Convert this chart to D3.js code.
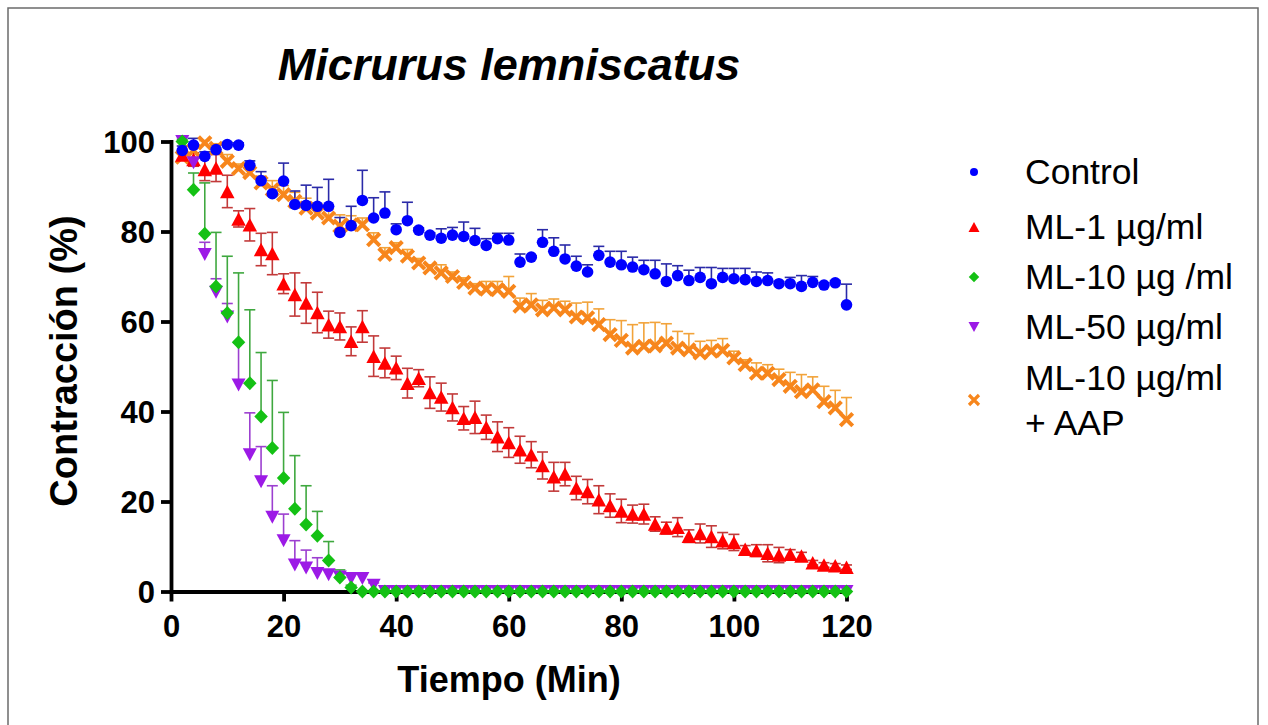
<!DOCTYPE html>
<html><head><meta charset="utf-8">
<script src="https://cdn.jsdelivr.net/npm/d3@7"></script>
<style>body{margin:0;background:#fff}svg{display:block}</style>
</head><body>
<svg id="chart" width="1268" height="725"></svg>
<script>
const times = d3.range(2, 121, 2);
const xTicks = [0, 20, 40, 60, 80, 100, 120];
const yTicks = [0, 20, 40, 60, 80, 100];
const seriesNames = ["Control", "ML-1 µg/ml", "ML-10 µg /ml", "ML-50 µg/ml", "ML-10 µg/ml|+ AAP"];

const controlMean = [98.0,99.2,96.7,98.2,99.3,99.2,94.7,91.3,88.4,91.2,86.0,85.8,85.6,85.6,79.8,81.3,86.9,83.0,84.1,80.4,82.4,80.3,79.2,78.5,79.2,78.9,78.0,76.9,78.4,78.1,73.2,74.3,77.6,75.6,73.9,72.3,71.0,74.7,73.2,72.6,72.1,71.5,70.6,68.9,70.2,69.1,69.8,68.4,69.8,69.5,69.3,68.9,69.1,68.4,68.4,67.8,68.7,68.1,68.6,63.7];
const controlErr = [1,1.5,1,1,0.5,0.5,1,2,1.5,4,3,4.5,4.2,6,3.3,4.3,6.7,4.5,4.7,1.3,4.1,0.5,0.5,2.1,1.7,3.2,2.7,1.5,1.2,1.5,1.8,0.3,2.8,3,3.1,2.2,1.6,2,2.4,3,2.2,2.1,3,3.9,2.2,2.3,2.2,3.6,2,2.3,2.5,2.1,1.7,0.5,1.4,2.4,1.3,0.5,0.5,4.6];

const ml1Mean = [97,96,93.8,94.1,88.9,82.8,81.5,76.0,75.1,68.4,66.0,64.1,62.0,59.3,58.9,55.6,58.9,52.3,50.8,49.7,46.3,47.4,44.2,43.2,40.9,38.5,38.7,36.5,34.4,33.1,31.5,30.4,28.0,25.5,26.1,23.0,22.2,20.4,19.1,17.9,17.2,17.2,15.0,14.1,14.3,12.3,12.9,12.2,11.3,10.9,9.4,9.1,8.5,8.1,8.3,7.9,6.4,5.9,5.7,5.4];
const ml1Err = [1,1.5,2.5,3,3.6,1.8,3.6,3.6,4.7,2.2,4.8,4.5,4.5,3,3,3.2,3.5,4.5,3.3,2.6,3.3,1.9,3.5,3.1,3,2.6,3.6,2.7,3.3,3.3,3,2.9,3,3.2,2.6,2.6,2.7,3.1,2.6,2.6,2,2.2,1.6,1.3,2.1,1.4,2.1,2.4,1.8,1.8,0.8,1.3,1.9,1.7,1,0.8,0.5,0.5,0.5,0.5];

const ml10Mean = [100,89.3,79.5,67.8,61.9,55.4,46.3,38.9,31.9,25.2,18.4,14.9,12.4,6.9,3.1,0.9,0,0,0,0,0,0,0,0,0,0,0,0,0,0,0,0,0,0,0,0,0,0,0,0,0,0,0,0,0,0,0,0,0,0,0,0,0,0,0,0,0,0,0,0];
const ml10Err = [0.5,3.7,11.3,12,12.6,15.4,16.3,14.2,15,14.6,11.8,8.6,5.4,4.2,1.7,0.5,0,0,0,0,0,0,0,0,0,0,0,0,0,0,0,0,0,0,0,0,0,0,0,0,0,0,0,0,0,0,0,0,0,0,0,0,0,0,0,0,0,0,0,0];

const ml50Mean = [100,95.3,74.9,66.5,61,45.9,30.4,24.4,16.5,11.3,5.9,5.2,4.0,3.7,3.2,2.9,2.9,1.4,0,0,0,0,0,0,0,0,0,0,0,0,0,0,0,0,0,0,0,0,0,0,0,0,0,0,0,0,0,0,0,0,0,0,0,0,0,0,0,0,0,0];
const ml50Err = [0,1,2.7,3,3,9.3,9.3,7.8,7,5.9,5.4,4,3.5,1.1,1,1,1,0.5,0,0,0,0,0,0,0,0,0,0,0,0,0,0,0,0,0,0,0,0,0,0,0,0,0,0,0,0,0,0,0,0,0,0,0,0,0,0,0,0,0,0];

const aapMean = [96.5,98,99.7,98.5,95.6,94.0,93.1,90.8,89.3,88.2,86.7,85.2,84.1,83.0,81.2,81.5,81.5,78.2,74.9,76.4,74.5,73.0,71.9,70.8,70.0,68.7,67.4,67.2,67.1,66.7,63.4,63.7,62.6,63.0,62.6,61.0,60.8,59.3,57.1,55.8,54.1,54.5,54.6,55.2,54.1,53.7,53.0,53.4,53.6,51.9,50.4,48.5,48.5,47.1,45.6,44.4,44.8,42.2,40.8,38.2];
const aapErr = [1,1,0.5,1,1.5,1,1.5,1.5,2,2,2,2.2,2,2,2.5,2,1.5,1.5,1.5,1.1,1.5,1,0.7,1.8,1,1,1,1.7,1.8,3.3,1.8,2.5,2.1,2,1.9,3.1,3.5,3.5,3.3,4.4,5.2,5.2,5.2,4.3,3.7,3.6,2.6,2.4,2.6,1.5,1.1,2.3,1.9,2.3,3.1,3.8,2.9,3.4,3.9,4.9];

const svg = d3.select("#chart");

// frame
svg.append("path").attr("d", "M8,725 L8,8 L1258,8 L1258,725")
  .attr("fill", "none").attr("stroke", "#6b6b6b").attr("stroke-width", 1.5);

const x = d3.scaleLinear().domain([0, 120]).range([171, 846.5]);
const y = d3.scaleLinear().domain([0, 100]).range([591.5, 141.5]);

const FONT = "'Liberation Sans', Arial, Helvetica, sans-serif";

// title
svg.append("text").attr("x", 509).attr("y", 80).attr("text-anchor", "middle")
  .attr("font-family", FONT).attr("font-weight", "bold").attr("font-style", "italic")
  .attr("font-size", 45).text("Micrurus lemniscatus");

// axes
const xAxis = d3.axisBottom(x).tickValues(xTicks).tickSize(10).tickSizeOuter(0).tickPadding(6);
const yAxis = d3.axisLeft(y).tickValues(yTicks).tickSize(10).tickSizeOuter(0).tickPadding(6);

const gx = svg.append("g").attr("transform", `translate(0,${y(0)})`).call(xAxis);
const gy = svg.append("g").attr("transform", `translate(${x(0)},0)`).call(yAxis);
[gx, gy].forEach(g => {
  g.select(".domain").attr("stroke", "#000").attr("stroke-width", 3.8).attr("stroke-linecap", "square");
  g.selectAll(".tick line").attr("stroke", "#000").attr("stroke-width", 3.8);
  g.selectAll(".tick text").attr("font-family", FONT).attr("font-weight", "bold")
    .attr("font-size", 31).attr("fill", "#000");
});
gx.selectAll(".tick text").attr("dy", "0.95em");
gy.selectAll(".tick text").attr("dy", "0.36em");

// axis titles
svg.append("text").attr("x", 509).attr("y", 692).attr("text-anchor", "middle")
  .attr("font-family", FONT).attr("font-weight", "bold").attr("font-size", 36).text("Tiempo (Min)");
svg.append("text").attr("transform", "translate(77,361) rotate(-90)").attr("text-anchor", "middle")
  .attr("font-family", FONT).attr("font-weight", "bold").attr("font-size", 38).text("Contracción (%)");

// marker shapes
function triUp(w, h) { return `M0,${-h/2} L${w/2},${h/2} L${-w/2},${h/2} Z`; }
function triDown(w, h) { return `M0,${h/2} L${w/2},${-h/2} L${-w/2},${-h/2} Z`; }
function diamond(w, h) { return `M0,${-h/2} L${w/2},0 L0,${h/2} L${-w/2},0 Z`; }
function cross(s) { return `M${-s},${-s} L${s},${s} M${-s},${s} L${s},${-s}`; }

const series = [
  {key: "aap", mean: aapMean, err: aapErr, color: "#F7861C", bar: "#F2A33A", both: false,
   shape: () => cross(6.2), stroke: true, legendShape: () => cross(5)},
  {key: "ml1", mean: ml1Mean, err: ml1Err, color: "#FF0000", bar: "#C23A3A", both: true,
   shape: () => triUp(14.5, 13.5), legendShape: () => triUp(11, 10)},
  {key: "ml50", mean: ml50Mean, err: ml50Err, color: "#9C1AE6", bar: "#9C3FD0", both: false,
   shape: () => triDown(14, 13), legendShape: () => triDown(11, 10)},
  {key: "ml10", mean: ml10Mean, err: ml10Err, color: "#14C114", bar: "#3FA83F", both: false,
   shape: () => diamond(13.5, 14), legendShape: () => diamond(10.5, 10.5)},
  {key: "ctrl", mean: controlMean, err: controlErr, color: "#0000FF", bar: "#2A2AA8", both: false,
   shape: null, legendShape: null}
];

const plot = svg.append("g");
const capW = 5.5;
series.forEach(s => {
  const data = times.map((t, i) => ({t, v: s.mean[i], e: s.err[i]}));
  const eb = plot.append("g").attr("stroke", s.bar).attr("stroke-width", 1.6).attr("fill", "none");
  data.filter(d => d.e > 0.25).forEach(d => {
    const cx = x(d.t), yt = y(d.v + d.e), yb = s.both ? y(d.v - d.e) : y(d.v);
    eb.append("line").attr("x1", cx).attr("x2", cx).attr("y1", yt).attr("y2", yb);
    eb.append("line").attr("x1", cx - capW).attr("x2", cx + capW).attr("y1", yt).attr("y2", yt);
    if (s.both) eb.append("line").attr("x1", cx - capW).attr("x2", cx + capW).attr("y1", yb).attr("y2", yb);
  });
  s.data = data;
});
series.forEach(s => {
  const g = plot.append("g");
  if (s.key === "ctrl") {
    g.selectAll("circle").data(s.data).join("circle")
      .attr("cx", d => x(d.t)).attr("cy", d => y(d.v)).attr("r", 5.8).attr("fill", s.color);
  } else if (s.stroke) {
    g.selectAll("path").data(s.data).join("path")
      .attr("transform", d => `translate(${x(d.t)},${y(d.v)})`).attr("d", s.shape())
      .attr("stroke", s.color).attr("stroke-width", 4).attr("fill", "none");
  } else {
    g.selectAll("path").data(s.data).join("path")
      .attr("transform", d => `translate(${x(d.t)},${y(d.v)})`).attr("d", s.shape())
      .attr("fill", s.color);
  }
});

// legend
const legendRows = [
  {name: seriesNames[0], key: "ctrl", ys: 172},
  {name: seriesNames[1], key: "ml1", ys: 227},
  {name: seriesNames[2], key: "ml10", ys: 277},
  {name: seriesNames[3], key: "ml50", ys: 327},
  {name: seriesNames[4], key: "aap", ys: 400}
];
const lg = svg.append("g");
legendRows.forEach(r => {
  const s = series.find(q => q.key === r.key);
  const sx = 974;
  if (r.key === "ctrl") {
    lg.append("circle").attr("cx", sx).attr("cy", r.ys).attr("r", 4).attr("fill", s.color);
  } else if (s.stroke) {
    lg.append("path").attr("transform", `translate(${sx},${r.ys})`).attr("d", s.legendShape())
      .attr("stroke", s.color).attr("stroke-width", 3.2).attr("fill", "none");
  } else {
    lg.append("path").attr("transform", `translate(${sx},${r.ys})`).attr("d", s.legendShape()).attr("fill", s.color);
  }
  const lines = r.name.split("|");
  const t = lg.append("text").attr("font-family", FONT).attr("font-size", 35.5).attr("fill", "#000");
  if (lines.length === 1) {
    t.append("tspan").attr("x", 1025).attr("y", r.ys).attr("dy", "0.35em").text(lines[0]);
  } else {
    t.append("tspan").attr("x", 1025).attr("y", 378).attr("dy", "0.35em").text(lines[0]);
    t.append("tspan").attr("x", 1025).attr("y", 423).attr("dy", "0.35em").text(lines[1]);
  }
});
</script>
</body></html>
